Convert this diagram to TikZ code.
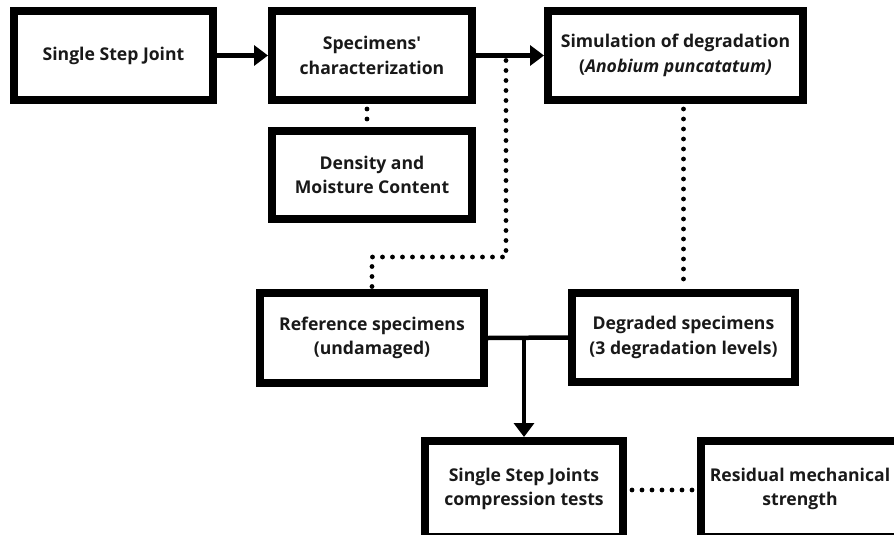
\documentclass[tikz,border=0pt]{standalone}
\usepackage{fontspec}
\setmainfont{Open Sans}[Ligatures=TeXOff]
\usetikzlibrary{arrows.meta,calc}
\begin{document}
\begin{tikzpicture}[x=1pt,y=-1pt,
  box/.style={draw=black, line width=8pt, fill=white, inner sep=0pt, outer sep=4pt,
    align=center, font=\fontsize{17.6}{24.5}\selectfont\bfseries, text=black!90},
  conn/.style={line width=4.5pt, draw=black},
  arr/.style={conn, -{Triangle[length=14pt,width=20pt]}},
  dotline/.style={line width=4.8pt, line cap=round, dash pattern=on 0pt off 10pt, dash phase=5pt}]
\clip (0,0) rectangle (894,535);
\fill[white] (0,0) rectangle (894,535);

\node[box, minimum width=199pt, minimum height=89pt] (b1) at (113.5,55.5) {Single Step Joint};
\node[box, minimum width=200pt, minimum height=89pt] (b2) at (372,55.5) {Specimens'\\characterization};
\node[box, minimum width=255pt, minimum height=89pt] (b3) at (675.5,55.5) {Simulation of degradation\\(\textit{Anobium puncatatum)}};
\node[box, minimum width=200pt, minimum height=88pt] (b4) at (372,175) {Density and\\Moisture Content};
\node[box, minimum width=224pt, minimum height=90pt] (b5) at (372,338) {Reference specimens\\(undamaged)};
\node[box, minimum width=223pt, minimum height=89pt] (b6) at (683.5,337.5) {Degraded specimens\\(3 degradation levels)};
\node[box, minimum width=198pt, minimum height=96pt] (b7) at (524,489) {Single Step Joints\\compression tests};
\node[box, minimum width=198pt, minimum height=96pt] (b8) at (800,489) {Residual mechanical\\strength};

% arrows along top row
\draw[arr] (b1.east) -- (b2.west);
\draw[arr] (b2.east) -- (b3.west);

% dotted connectors
\coordinate (j1) at (506,55.5);
\coordinate (k1) at (506,257);
\draw[dotline] (j1) -- (k1) -| (b5.north);
\draw[dotline] ([xshift=-5pt]b2.south) -- ([xshift=-5pt]b4.north);
\draw[dotline] (b6.north |- b3.south) -- (b6.north);
\draw[dotline] (b7.east |- 0,490) -- (b8.west |- 0,490);

% T junction
\draw[conn] (b5.east) -- (b6.west);
\coordinate (t) at (b7.north |- b5.east);
\draw[arr] (t) -- (b7.north);
\end{tikzpicture}
\end{document}
